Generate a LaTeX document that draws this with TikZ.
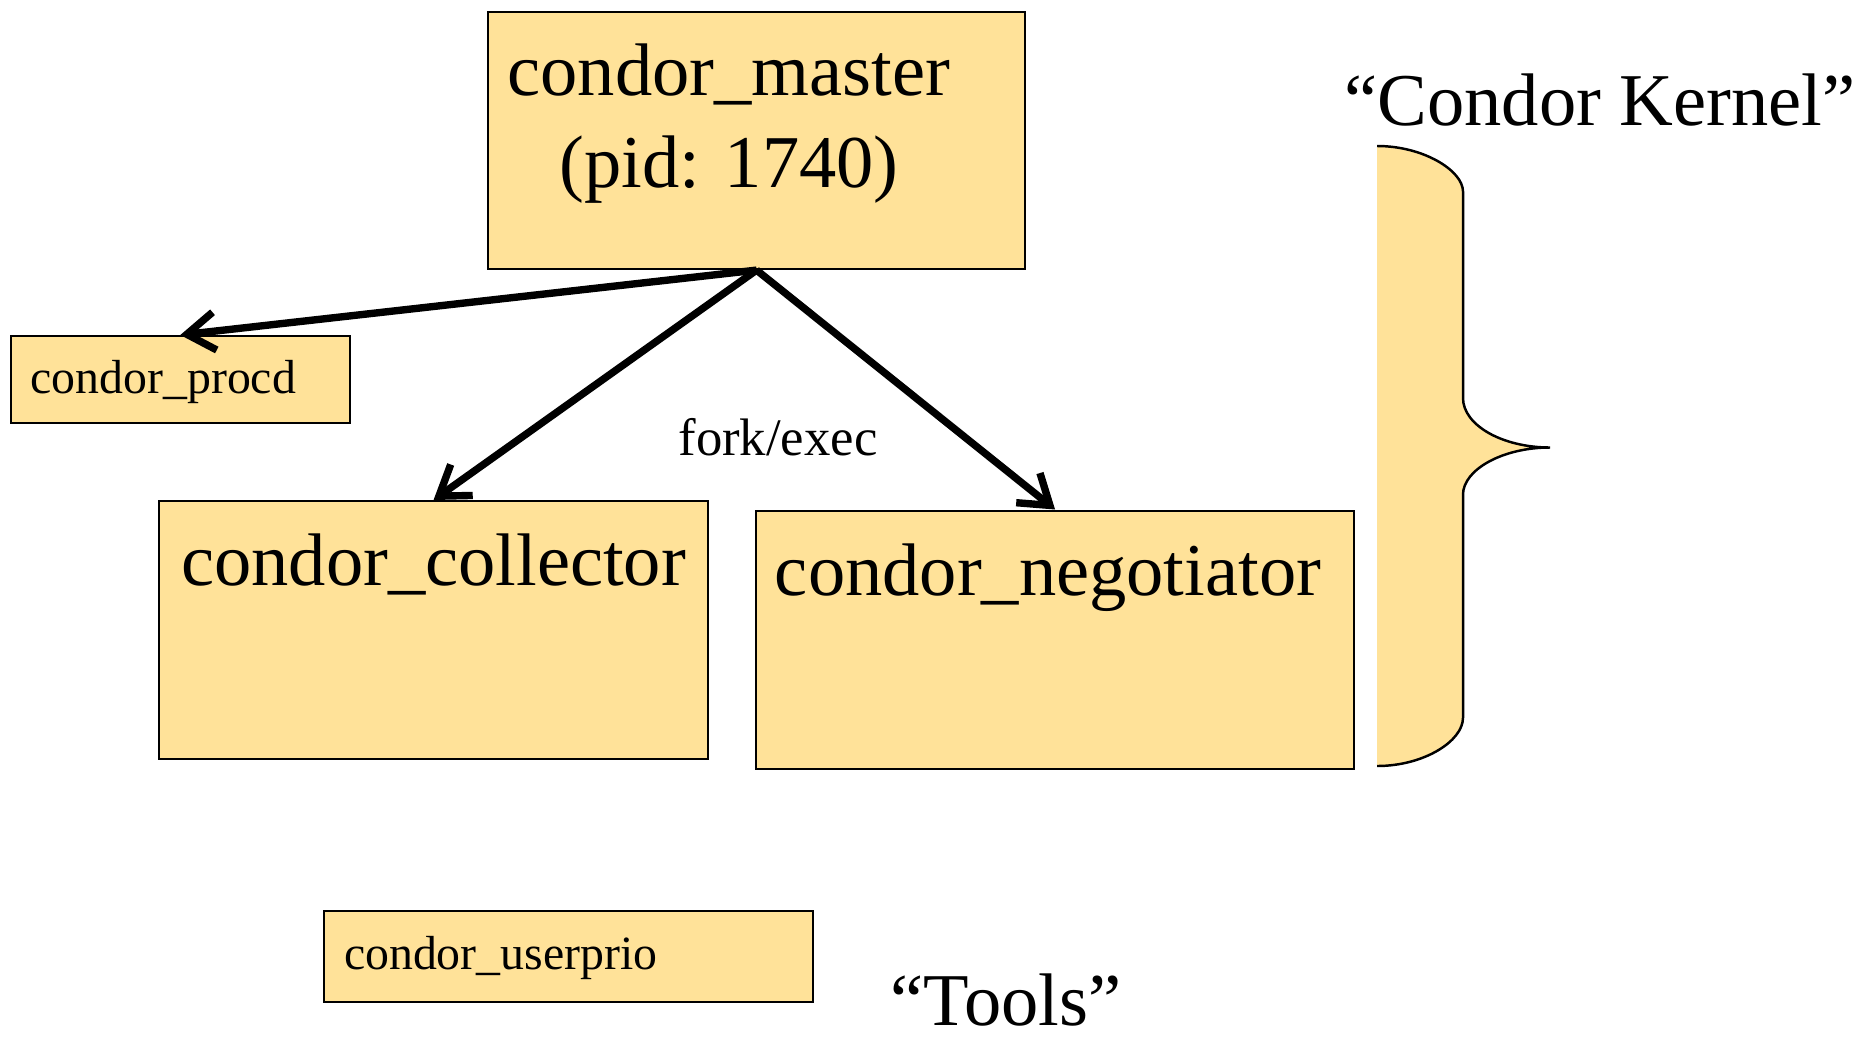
\documentclass[tikz,border=0pt]{standalone}
\usepackage{fontspec}
\setmainfont{Liberation Serif}
\usetikzlibrary{arrows, arrows.meta}
\definecolor{condoryellow}{RGB}{255,226,153}
\tikzset{procbox/.style={draw=black, line width=0.6pt, fill=condoryellow, inner ysep=0pt, anchor=north west}}
\tikzset{bigfont/.style={font=\fontsize{21.2}{25.9}\selectfont}}
\tikzset{smallfont/.style={font=\fontsize{13.6}{16}\selectfont}}
\tikzset{forkarrow/.style={line width=2.1pt, -{Straight Barb[length=0.28cm,width=0.38cm]}}}
\newcommand{\kernelbrace}{(13.77,-1.46) .. controls (14.24,-1.46) and (14.63,-1.71) .. (14.63,-1.915) -- (14.63,-3.98) .. controls (14.63,-4.25) and (15.02,-4.475) .. (15.50,-4.475) .. controls (15.02,-4.475) and (14.63,-4.70) .. (14.63,-4.946) -- (14.63,-7.177) .. controls (14.63,-7.41) and (14.24,-7.66) .. (13.77,-7.66)}

\begin{document}
\begin{tikzpicture}
      \useasboundingbox (0,0) rectangle (18.62,-10.36);
      % daemons
      \node[procbox, minimum width=5.37cm, minimum height=2.57cm] (master) at (4.87,-0.11) {};
      \node[bigfont, align=center, anchor=base] (mastertext) at (7.29,-1.87) {condor\_master\\(pid: 1740)};
      \node[procbox, smallfont, text width=2.995cm, align=left, inner xsep=0.2cm, text height=0.57cm, text depth=0.30cm] (procd) at (0.095,-3.35) {condor\_procd};
      \node[procbox, bigfont, minimum width=5.49cm, text height=0.84cm, text depth=1.74cm] (collector) at (1.58,-5.00) {condor\_collector};
      \node[procbox, bigfont, minimum width=5.98cm, text height=0.85cm, text depth=1.73cm] (negotiator) at (7.55,-5.095) {condor\_negotiator\kern0.14cm};
      \node[procbox, smallfont, text width=4.49cm, align=left, inner xsep=0.2cm, text height=0.58cm, text depth=0.33cm] (userprio) at (3.23,-9.10) {condor\_userprio};
      % fork/exec
      \draw[forkarrow] (master.south) -- (procd.north);
      \draw[forkarrow] (master.south) -- (collector.north);
      \draw[forkarrow] (master.south) -- (negotiator.north);
      \node[font=\fontsize{15}{18}\selectfont, anchor=base] (forklabel) at (7.78,-4.55) {fork/exec};
      % brace
      \fill[condoryellow] \kernelbrace -- cycle;
      \draw[line width=0.7pt] \kernelbrace;
      \node[bigfont, anchor=base, inner sep=0pt] (kernel) at (16.00,-1.25) {“Condor Kernel”};
      \node[bigfont, anchor=base, inner sep=0pt] (tools) at (10.06,-10.25) {“Tools”};
\end{tikzpicture}
\end{document}
